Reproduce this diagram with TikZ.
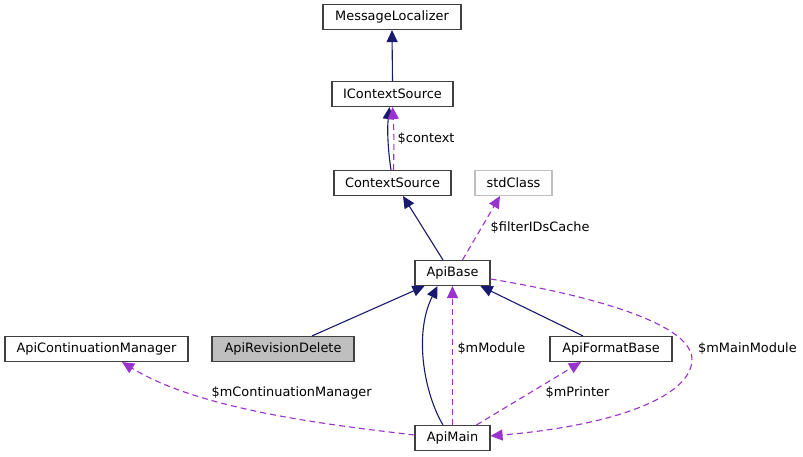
\documentclass[tikz,border=0pt]{standalone}
\usepackage{fontspec}
\setmainfont{DejaVu Sans}
\usetikzlibrary{arrows.meta}
\definecolor{navy}{HTML}{191970}
\definecolor{purp}{HTML}{9A32CD}
\definecolor{boxline}{HTML}{404040}
\definecolor{lightline}{HTML}{BFBFBF}
\definecolor{greyfill}{HTML}{BFBFBF}
\begin{document}
\begin{tikzpicture}[x=1pt,y=-1pt,
  cls/.style={draw=boxline,line width=1.1pt,fill=white,inner sep=0pt,minimum height=25pt,
    font=\fontsize{12.9}{15}\selectfont},
  inh/.style={navy,line width=1.1pt,-{Triangle[length=12pt,width=11pt]}},
  use/.style={purp,line width=1.1pt,dash pattern=on 6pt off 4pt,-{Triangle[length=12pt,width=11pt]}},
  lbl/.style={anchor=west,inner sep=0pt,font=\fontsize{12.9}{15}\selectfont}]
\useasboundingbox (0,0) rectangle (803,457);
\fill[white] (0,0) rectangle (803,457);
% nodes
\node[cls,minimum width=138pt] (ML) at (392,17) {MessageLocalizer};
\node[cls,minimum width=121pt] (ICS) at (392.5,94) {IContextSource};
\node[cls,minimum width=117pt] (CS) at (392.5,183) {ContextSource};
\node[cls,draw=lightline,minimum width=77pt] (STD) at (513.5,183) {stdClass};
\node[cls,minimum width=75pt] (AB) at (452.5,273) {ApiBase};
\node[cls,minimum width=183pt] (ACM) at (96.5,349) {ApiContinuationManager};
\node[cls,fill=greyfill,minimum width=142pt] (ARD) at (283,349) {ApiRevisionDelete};
\node[cls,minimum width=122pt] (AFB) at (611,349) {ApiFormatBase};
\node[cls,minimum width=75pt] (AM) at (452.5,438) {ApiMain};
% inheritance
\draw[inh] (ICS.north) -- (ML.south);
\draw[inh] ([xshift=-1.5pt]CS.north) .. controls (388,150) and (387,130) .. ([xshift=-3pt]ICS.south);
\draw[inh] ([xshift=-9.5pt]AB.north) -- ([xshift=10.5pt]CS.south);
\draw[inh] ([xshift=29pt]ARD.north) -- ([xshift=-28pt]AB.south);
\draw[inh] ([xshift=-9.5pt]AM.north) .. controls (425,395) and (413,335) .. ([xshift=-15pt]AB.south);
\draw[inh] ([xshift=-28pt]AFB.north) -- ([xshift=28pt]AB.south);
% usage
\draw[use] ([xshift=1pt]CS.north) .. controls (394,150) and (394,130) .. (ICS.south);
\node[lbl] (Lctx) at (397.5,139) {\$context};
\draw[use] ([xshift=10pt]AB.north) -- ([xshift=-13.5pt]STD.south);
\node[lbl] (Lfid) at (490.5,227.5) {\$filterIDsCache};
\draw[use] (AM.north) -- (AB.south);
\node[lbl] (Lmod) at (457.3,349) {\$mModule};
\draw[use] ([xshift=24pt]AM.north) -- ([xshift=-30pt]AFB.south);
\node[lbl] (Lpr) at (545.5,392.5) {\$mPrinter};
\draw[use] ([yshift=3pt]AM.west) .. controls (330,425) and (200,410) .. ([xshift=25.5pt]ACM.south);
\node[lbl] (Lcm) at (211.5,392.5) {\$mContinuationManager};
\draw[use] ([yshift=-6pt]AB.east) .. controls (570,292) and (693,320) .. (692,360)
  .. controls (691,395) and (620,425) .. ([yshift=2pt]AM.east);
\node[lbl] (Lmm) at (698,349) {\$mMainModule};
\end{tikzpicture}
\end{document}
